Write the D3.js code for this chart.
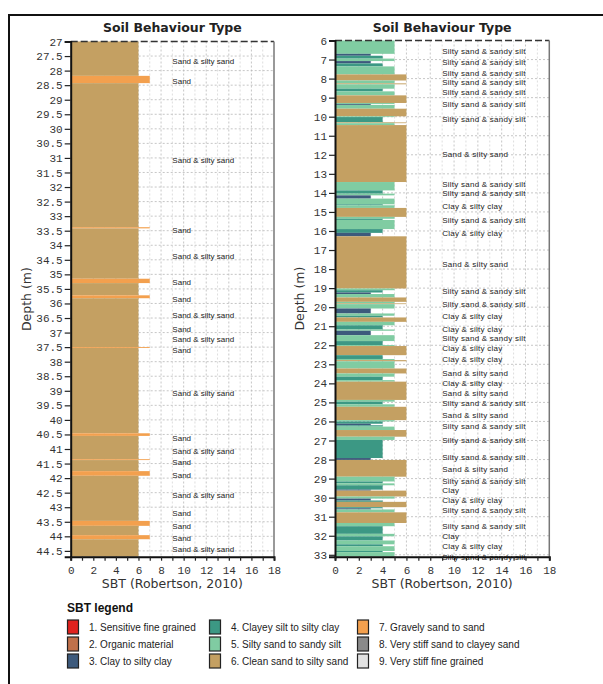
<!DOCTYPE html>
<html>
<head>
<meta charset="utf-8">
<script src="https://cdn.jsdelivr.net/npm/d3@7"></script>
<style>
  body { margin: 0; background: #fff; }
  svg { display: block; }
</style>
</head>
<body>
<svg id="chart" width="603" height="684"></svg>
<script>
// SBT zones (Robertson, 2010)
const sbtZones = [1, 2, 3, 4, 5, 6, 7, 8, 9];
const sbtNames = [
  "1. Sensitive fine grained", "2. Organic material", "3. Clay to silty clay",
  "4. Clayey silt to silty clay", "5. Silty sand to sandy silt", "6. Clean sand to silty sand",
  "7. Gravely sand to sand", "8. Very stiff sand to clayey sand", "9. Very stiff fine grained"
];
const sbtColors = ["#e0221e", "#c0714b", "#3d5a7c", "#3c9884", "#80cca2", "#c4a062", "#f3a04e", "#8a8a8a", "#e2e2e2"];

const sbtTicks = [0, 1, 2, 3, 4, 5, 6, 7, 8, 9, 10, 11, 12, 13, 14, 15, 16, 17, 18];

// Profile A (27 - 44.7 m): [top depth, base depth, SBT zone]
const layersA = [
  [27.00, 28.18, 6], [28.18, 28.43, 7], [28.43, 33.38, 6], [33.38, 33.42, 7],
  [33.42, 35.15, 6], [35.15, 35.30, 7], [35.30, 35.72, 6], [35.72, 35.82, 7],
  [35.82, 37.50, 6], [37.50, 37.53, 7], [37.53, 40.46, 6], [40.46, 40.55, 7],
  [40.55, 41.35, 6], [41.35, 41.38, 7], [41.38, 41.76, 6], [41.76, 41.92, 7],
  [41.92, 43.47, 6], [43.47, 43.64, 7], [43.64, 43.96, 6], [43.96, 44.10, 7],
  [44.10, 44.70, 6]
];
const depthTicksA = [27, 27.5, 28, 28.5, 29, 29.5, 30, 30.5, 31, 31.5, 32, 32.5, 33, 33.5, 34, 34.5,
  35, 35.5, 36, 36.5, 37, 37.5, 38, 38.5, 39, 39.5, 40, 40.5, 41, 41.5, 42, 42.5, 43, 43.5, 44, 44.5];
const labelDepthsA = [27.69, 28.37, 31.07, 33.47, 34.39, 35.28, 35.85, 36.40, 36.89, 37.22, 37.60,
  39.09, 40.63, 41.06, 41.45, 41.91, 42.57, 43.19, 43.65, 44.07, 44.45];
const labelTextsA = ["Sand & silty sand", "Sand", "Sand & silty sand", "Sand", "Sand & silty sand",
  "Sand", "Sand", "Sand & silty sand", "Sand", "Sand & silty sand", "Sand", "Sand & silty sand",
  "Sand", "Sand & silty sand", "Sand", "Sand", "Sand & silty sand", "Sand", "Sand", "Sand",
  "Sand & silty sand"];

// Profile B (6 - 33.1 m): [top depth, base depth, SBT zone]
const layersB = [
  [6.00, 6.70, 5], [6.70, 6.80, 3], [6.80, 6.95, 4], [6.95, 7.08, 5], [7.08, 7.20, 3],
  [7.20, 7.36, 4], [7.36, 7.78, 5], [7.78, 8.10, 6], [8.10, 8.25, 5], [8.25, 8.30, 6],
  [8.30, 8.53, 5], [8.53, 8.67, 4], [8.67, 8.88, 5], [8.88, 9.28, 6], [9.28, 9.33, 5],
  [9.33, 9.38, 3], [9.38, 9.58, 5], [9.58, 9.98, 6], [9.98, 10.02, 5], [10.02, 10.28, 4],
  [10.28, 10.30, 5], [10.30, 10.34, 6], [10.34, 10.44, 5], [10.44, 13.43, 6], [13.43, 13.87, 5],
  [13.87, 14.04, 4], [14.04, 14.13, 5], [14.13, 14.30, 3], [14.30, 14.60, 5], [14.60, 14.65, 4],
  [14.65, 14.79, 5], [14.79, 15.26, 6], [15.26, 15.36, 5], [15.36, 15.42, 4], [15.42, 15.90, 5],
  [15.90, 16.10, 4], [16.10, 16.28, 3], [16.28, 19.02, 6], [19.02, 19.11, 5], [19.11, 19.23, 4],
  [19.23, 19.31, 3], [19.31, 19.49, 5], [19.49, 19.72, 6], [19.72, 19.80, 5], [19.80, 19.84, 6],
  [19.84, 20.07, 5], [20.07, 20.33, 3], [20.33, 20.45, 5], [20.45, 20.54, 4], [20.54, 20.77, 6],
  [20.77, 20.95, 5], [20.95, 21.17, 4], [21.17, 21.24, 5], [21.24, 21.47, 3], [21.47, 21.78, 5],
  [21.78, 21.99, 4], [21.99, 22.04, 5], [22.04, 22.52, 6], [22.52, 22.72, 4], [22.72, 22.78, 5],
  [22.78, 22.84, 6], [22.84, 23.22, 5], [23.22, 23.48, 6], [23.48, 23.65, 5], [23.65, 23.83, 4],
  [23.83, 23.91, 5], [23.91, 24.87, 6], [24.87, 24.96, 5], [24.96, 25.10, 4], [25.10, 25.23, 5],
  [25.23, 25.93, 6], [25.93, 26.00, 5], [26.00, 26.12, 4], [26.12, 26.20, 3], [26.20, 26.27, 4],
  [26.27, 26.45, 5], [26.45, 26.80, 6], [26.80, 26.97, 5], [26.97, 27.92, 4], [27.92, 28.02, 3],
  [28.02, 28.90, 6], [28.90, 29.15, 5], [29.15, 29.25, 4], [29.25, 29.35, 5], [29.35, 29.58, 4],
  [29.58, 29.63, 3], [29.63, 29.94, 6], [29.94, 30.05, 5], [30.05, 30.15, 3], [30.15, 30.22, 4],
  [30.22, 30.50, 6], [30.50, 30.56, 4], [30.56, 30.62, 3], [30.62, 30.77, 5], [30.77, 31.33, 6],
  [31.33, 31.50, 5], [31.50, 31.90, 4], [31.90, 32.03, 5], [32.03, 32.25, 4], [32.25, 32.45, 5],
  [32.45, 32.55, 4], [32.55, 32.80, 5], [32.80, 32.86, 4], [32.86, 33.10, 5]
];
const depthTicksB = [6, 7, 8, 9, 10, 11, 12, 13, 14, 15, 16, 17, 18, 19, 20, 21, 22, 23, 24, 25,
  26, 27, 28, 29, 30, 31, 32, 33];
const labelDepthsB = [6.56, 7.14, 7.71, 8.19, 8.71, 9.36, 10.11, 11.98, 13.54, 14.04, 14.70, 15.44,
  16.10, 17.75, 19.15, 19.86, 20.47, 21.14, 21.64, 22.17, 22.74, 23.48, 23.97, 24.50, 25.05, 25.66,
  26.24, 26.98, 27.90, 28.51, 29.12, 29.63, 30.16, 30.65, 31.52, 32.01, 32.53, 33.15];
const labelTextsB = [
  "Silty sand & sandy silt", "Silty sand & sandy silt", "Silty sand & sandy silt",
  "Silty sand & sandy silt", "Silty sand & sandy silt", "Silty sand & sandy silt",
  "Silty sand & sandy silt", "Sand & silty sand", "Silty sand & sandy silt",
  "Silty sand & sandy silt", "Clay & silty clay", "Silty sand & sandy silt", "Clay & silty clay",
  "Sand & silty sand", "Silty sand & sandy silt", "Silty sand & sandy silt", "Clay & silty clay",
  "Clay & silty clay", "Silty sand & sandy silt", "Clay & silty clay", "Clay & silty clay",
  "Sand & silty sand", "Clay & silty clay", "Sand & silty sand", "Silty sand & sandy silt",
  "Sand & silty sand", "Silty sand & sandy silt", "Silty sand & sandy silt",
  "Silty sand & sandy silt", "Sand & silty sand", "Silty sand & sandy silt", "Clay",
  "Clay & silty clay", "Silty sand & sandy silt", "Silty sand & sandy silt", "Clay",
  "Clay & silty clay", "Silty sand & sandy silt"
];

const svg = d3.select("#chart");
const color = d3.scaleOrdinal(sbtZones, sbtColors);

// Outer frame (top and left edges)
svg.append("line").attr("x1", 9).attr("x2", 603).attr("y1", 15).attr("y2", 15)
  .attr("stroke", "#111").attr("stroke-width", 2);
svg.append("line").attr("x1", 9).attr("x2", 9).attr("y1", 14).attr("y2", 684)
  .attr("stroke", "#111").attr("stroke-width", 2);

function drawProfile(o) {
  const x = d3.scaleLinear([0, 18], o.xRange);
  const y = d3.scaleLinear(o.depthDomain, o.yRange);
  const g = svg.append("g");
  const [x0, x1] = o.xRange, [y0, y1] = o.yRange;

  // grid
  g.append("g").selectAll("line").data(sbtTicks.slice(1, -1)).join("line")
    .attr("x1", d => x(d)).attr("x2", d => x(d)).attr("y1", y0).attr("y2", y1)
    .attr("stroke", d => d % 2 === 0 ? "#b8b8b8" : "#d6d6d6")
    .attr("stroke-width", 0.8).attr("stroke-dasharray", "2,2");
  g.append("g").selectAll("line").data(o.depthTicks.slice(1)).join("line")
    .attr("x1", x0).attr("x2", x1).attr("y1", d => y(d)).attr("y2", d => y(d))
    .attr("stroke", "#b8b8b8").attr("stroke-width", 0.8).attr("stroke-dasharray", "2,2");

  // soil layers
  g.append("g").selectAll("rect").data(o.layers).join("rect")
    .attr("x", x(0)).attr("width", d => x(d[2]) - x(0))
    .attr("y", d => y(d[0])).attr("height", d => y(d[1]) - y(d[0]))
    .attr("fill", d => color(d[2]));

  // frame: dashed top, grey right edge
  g.append("line").attr("x1", x0).attr("x2", x1).attr("y1", y0).attr("y2", y0)
    .attr("stroke", "#333").attr("stroke-width", 1.5).attr("stroke-dasharray", "7,3");
  g.append("line").attr("x1", x1).attr("x2", x1).attr("y1", y0).attr("y2", y1)
    .attr("stroke", "#777").attr("stroke-width", 1.5);

  // layer descriptions
  g.append("g").selectAll("text").data(o.labelDepths).join("text")
    .attr("x", x(9)).attr("y", d => y(d)).attr("dy", "0.35em")
    .attr("font-family", "'Liberation Sans', Arial, sans-serif")
    .attr("font-size", 8).attr("letter-spacing", o.labelSpacing).attr("fill", "#222")
    .text((d, i) => o.labelTexts[i]);

  // axes
  const yAxis = g.append("g").attr("transform", `translate(${x0},0)`)
    .call(d3.axisLeft(y).tickValues(o.depthTicks).tickSize(6).tickPadding(2).tickFormat(d => String(d)));
  const xAxis = g.append("g").attr("transform", `translate(0,${y1})`)
    .call(d3.axisBottom(x).tickValues(sbtTicks).tickSize(4).tickPadding(6)
      .tickFormat(d => d % 2 === 0 ? String(d) : ""));
  [yAxis, xAxis].forEach(a => {
    a.select(".domain").attr("stroke", "#111").attr("stroke-width", 2);
    a.selectAll(".tick line").attr("stroke", "#222").attr("stroke-width", 1.2);
    a.selectAll("text").attr("font-family", "'Liberation Mono', 'DejaVu Sans Mono', monospace")
      .attr("font-size", 11).attr("fill", "#333");
  });

  // titles
  g.append("text").attr("x", (x0 + x1) / 2).attr("y", 28).attr("dy", "0.35em")
    .attr("text-anchor", "middle").attr("font-family", "'DejaVu Sans', Verdana, sans-serif")
    .attr("font-weight", "bold").attr("font-size", 12.5).attr("fill", "#222")
    .text("Soil Behaviour Type");
  g.append("text").attr("x", (x0 + x1) / 2).attr("y", 584).attr("dy", "0.35em")
    .attr("text-anchor", "middle").attr("font-family", "'DejaVu Sans', Verdana, sans-serif")
    .attr("font-size", 12.5).attr("fill", "#333")
    .text("SBT (Robertson, 2010)");
  g.append("text").attr("transform", `translate(${o.yTitleX},${(y0 + y1) / 2}) rotate(-90)`)
    .attr("dy", "0.35em").attr("text-anchor", "middle")
    .attr("font-family", "'DejaVu Sans', Verdana, sans-serif")
    .attr("font-size", 12.5).attr("fill", "#333")
    .text("Depth (m)");
}

drawProfile({
  xRange: [70.7, 274], depthDomain: [27, 44.7], yRange: [41.5, 556.7],
  layers: layersA, depthTicks: depthTicksA, labelDepths: labelDepthsA, labelTexts: labelTextsA,
  labelSpacing: 0, yTitleX: 27
});
drawProfile({
  xRange: [335, 549.3], depthDomain: [6, 33.1], yRange: [40.5, 556.7],
  layers: layersB, depthTicks: depthTicksB, labelDepths: labelDepthsB, labelTexts: labelTextsB,
  labelSpacing: 0.25, yTitleX: 300
});

// legend
const legend = svg.append("g");
legend.append("text").attr("x", 67).attr("y", 608).attr("dy", "0.35em")
  .attr("font-family", "'Liberation Sans', Arial, sans-serif").attr("font-weight", "bold")
  .attr("font-size", 12).attr("fill", "#111").text("SBT legend");
const legendColX = [67, 209, 357];
const legendRowY = [627, 644, 661];
const item = legend.selectAll("g.item").data(sbtZones).join("g").attr("class", "item")
  .attr("transform", (d, i) => `translate(${legendColX[Math.floor(i / 3)]},${legendRowY[i % 3]})`);
item.append("rect").attr("x", 0.5).attr("y", -7).attr("width", 11).attr("height", 14)
  .attr("fill", d => color(d)).attr("stroke", "#222").attr("stroke-width", 1.2);
item.append("text").attr("x", 22).attr("y", 0).attr("dy", "0.35em")
  .attr("font-family", "'Liberation Sans', Arial, sans-serif").attr("font-size", 10)
  .attr("fill", "#222").text((d, i) => sbtNames[i]);
</script>
</body>
</html>
